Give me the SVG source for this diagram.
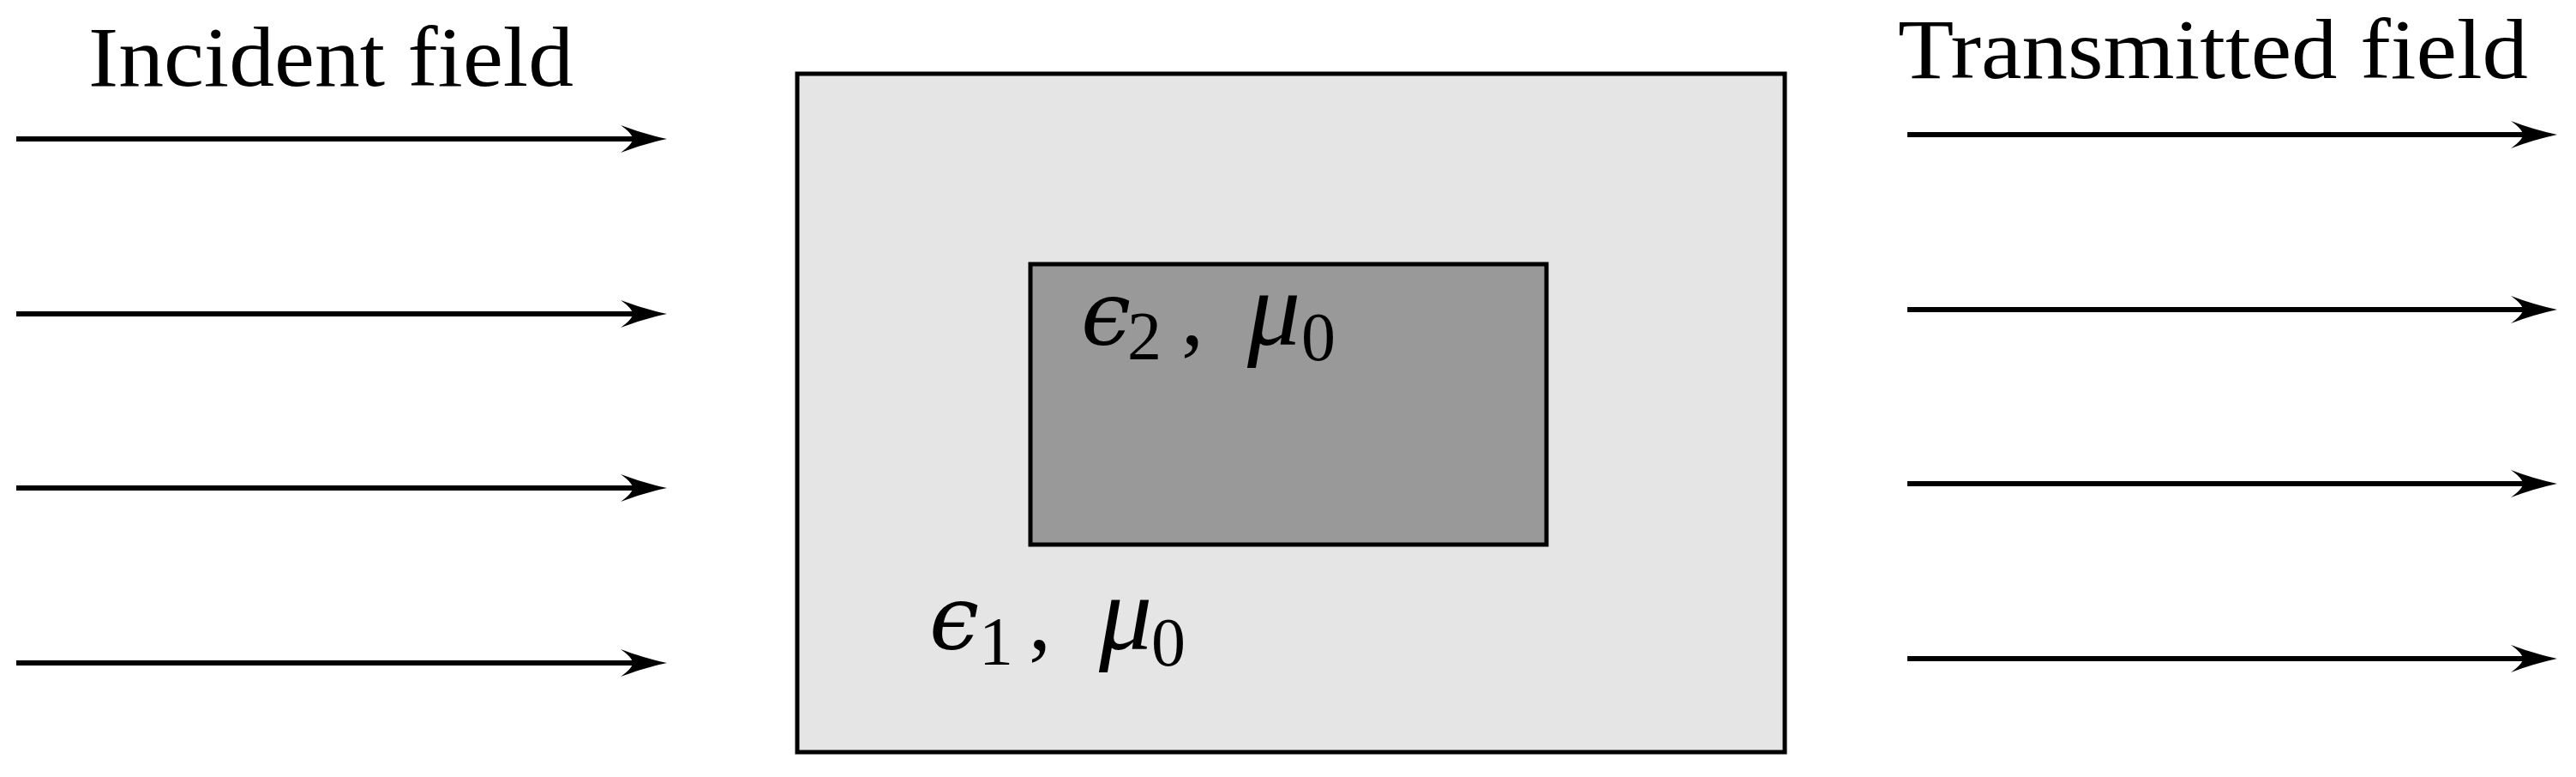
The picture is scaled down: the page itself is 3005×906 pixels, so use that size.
<svg xmlns="http://www.w3.org/2000/svg" width="3005" height="906" viewBox="0 0 3005 906">
<style>
.lbl{font-family:"Liberation Serif","DejaVu Serif",serif;font-size:100px;fill:#000}
.math{font-family:"DejaVu Serif","Liberation Serif",serif;font-size:104px;fill:#000}
.it{font-style:italic}
.mu{font-family:"Liberation Serif","DejaVu Serif",serif;font-style:italic;font-size:124px}
.sub{font-family:"Liberation Serif","DejaVu Serif",serif;font-size:80px;font-style:normal}
.cm{font-family:"Liberation Serif","DejaVu Serif",serif}
.arr{stroke:#000;stroke-width:6;fill:none}
.box{stroke:#000;stroke-width:5}
</style>
<defs>
<marker id="ah" markerUnits="userSpaceOnUse" markerWidth="80" markerHeight="60" refX="-33" refY="0" orient="auto" overflow="visible">
<path d="M0,0 Q-28,-6 -54,-16 Q-40,-6 -40,0 Q-40,6 -54,16 Q-28,6 0,0 Z" fill="#000"/>
</marker>
</defs>
<g id="title-incident"><text class="lbl" x="103" y="100" textLength="566" lengthAdjust="spacingAndGlyphs">Incident field</text></g>
<g id="title-transmitted"><text class="lbl" x="2214" y="91" textLength="735" lengthAdjust="spacingAndGlyphs">Transmitted field</text></g>
<g id="outer">
<rect class="box" x="930" y="86" width="1152" height="791" fill="#e5e5e5"/>
<text class="math"><tspan class="it" x="1084" y="757">ϵ</tspan><tspan class="sub" x="1142" y="775">1</tspan><tspan class="cm" x="1200" y="757">,</tspan><tspan class="mu" x="1282" y="757">μ</tspan><tspan class="sub" x="1343" y="776">0</tspan></text>
</g>
<g id="inner">
<rect class="box" x="1202" y="308" width="602" height="327" fill="#999999"/>
<text class="math"><tspan class="it" x="1261" y="402">ϵ</tspan><tspan class="sub" x="1315" y="419">2</tspan><tspan class="cm" x="1378" y="402">,</tspan><tspan class="mu" x="1455" y="402">μ</tspan><tspan class="sub" x="1518" y="420">0</tspan></text>
</g>
<g id="connectors">
<line class="arr" x1="19" y1="162" x2="745" y2="162" marker-end="url(#ah)"/>
<line class="arr" x1="19" y1="366" x2="745" y2="366" marker-end="url(#ah)"/>
<line class="arr" x1="19" y1="569" x2="745" y2="569" marker-end="url(#ah)"/>
<line class="arr" x1="19" y1="773" x2="745" y2="773" marker-end="url(#ah)"/>
<line class="arr" x1="2225" y1="157" x2="2950" y2="157" marker-end="url(#ah)"/>
<line class="arr" x1="2225" y1="361" x2="2950" y2="361" marker-end="url(#ah)"/>
<line class="arr" x1="2225" y1="564" x2="2950" y2="564" marker-end="url(#ah)"/>
<line class="arr" x1="2225" y1="768" x2="2950" y2="768" marker-end="url(#ah)"/>
</g>
</svg>
